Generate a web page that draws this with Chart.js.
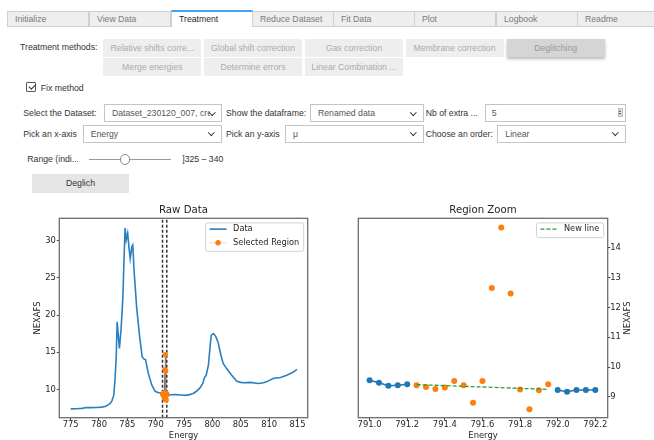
<!DOCTYPE html>
<html>
<head>
<meta charset="utf-8">
<script src="https://cdn.jsdelivr.net/npm/chart.js@4.4.1/dist/chart.umd.min.js"></script>
<style>
  html, body { margin: 0; padding: 0; background: #fff; }
  #page { position: relative; width: 654px; height: 440px; overflow: hidden;
          font-family: "Liberation Sans", Arial, sans-serif; font-size: 8.7px; color: #333; }
  .abs { position: absolute; white-space: nowrap; }
  .tab { position: absolute; top: 11px; height: 16px; width: 82px; box-sizing: border-box;
         background: #eeeeee; border: 1px solid #cfcfcf; color: #7a7a7a;
         line-height: 14px; padding-left: 7px; white-space: nowrap; }
  .tab.active { top: 9.5px; height: 17.5px; background: #fff; color: #2a2a2a;
                border-top: 2px solid #42a5f5; border-bottom: none; }
  .btn { position: absolute; width: 98px; height: 18.4px; line-height: 18.4px; background: #eeeeee;
         color: #ababab; text-align: center; white-space: nowrap; overflow: hidden; }
  .btn.on { background: #d5d5d5; color: #9a9a9a; box-shadow: 0 2px 3px rgba(0,0,0,0.28); }
  .lbl { position: absolute; height: 12px; line-height: 12px; white-space: nowrap; color: #333; }
  .dd { position: absolute; box-sizing: border-box; height: 18px; line-height: 16px; border: 1px solid #c4c4c4;
        background: #fff; padding-left: 7px; color: #555; white-space: nowrap; overflow: hidden; }
  .dd .txt { display: inline-block; overflow: hidden; vertical-align: top; }
  .chev { position: absolute; right: 7px; top: 4.5px; width: 3.5px; height: 3.5px;
          border-right: 1.6px solid #333; border-bottom: 1.6px solid #333; transform: rotate(45deg); }
  .cv { position: absolute; }
</style>
</head>
<body>
<div id="page">
  <!-- tab bar -->
  <div class="tab" style="left:7px">Initialize</div>
  <div class="tab" style="left:89px">View Data</div>
  <div class="tab active" style="left:171px">Treatment</div>
  <div class="tab" style="left:252px">Reduce Dataset</div>
  <div class="tab" style="left:333px">Fit Data</div>
  <div class="tab" style="left:414px">Plot</div>
  <div class="tab" style="left:496px">Logbook</div>
  <div class="tab" style="left:577px;width:80px">Readme</div>

  <!-- treatment method toggles -->
  <div class="lbl" style="left:20px;top:41.3px">Treatment methods:</div>
  <div class="btn" style="left:103.3px;top:38.7px">Relative shifts corre...</div>
  <div class="btn" style="left:204px;top:38.7px">Global shift correction</div>
  <div class="btn" style="left:305px;top:38.7px">Gas correction</div>
  <div class="btn" style="left:405.5px;top:38.7px">Membrane correction</div>
  <div class="btn on" style="left:506.7px;top:38.7px">Deglitching</div>
  <div class="btn" style="left:103.3px;top:57.6px">Merge energies</div>
  <div class="btn" style="left:204px;top:57.6px">Determine errors</div>
  <div class="btn" style="left:305px;top:57.6px">Linear Combination ...</div>

  <!-- fix method checkbox -->
  <div class="abs" style="left:26px;top:82px;width:10px;height:10px;box-sizing:border-box;border:1px solid #555;border-radius:1px;background:#fff">
    <div class="abs" style="left:2.6px;top:0px;width:2.6px;height:5.4px;border-right:1.4px solid #333;border-bottom:1.4px solid #333;transform:rotate(45deg)"></div>
  </div>
  <div class="lbl" style="left:40.7px;top:82.3px">Fix method</div>

  <!-- row 1 -->
  <div class="lbl" style="left:23.3px;top:107.3px">Select the Dataset:</div>
  <div class="dd" style="left:104px;top:104.3px;width:118px"><span class="txt" style="width:98px">Dataset_230120_007, created</span><div class="chev"></div></div>
  <div class="lbl" style="left:226px;top:107.3px">Show the dataframe:</div>
  <div class="dd" style="left:310px;top:104.3px;width:113.5px">Renamed data<div class="chev"></div></div>
  <div class="lbl" style="left:425.7px;top:107.3px">Nb of extra ...</div>
  <div class="dd" style="left:484.7px;top:104.3px;width:141px;padding-left:6px">5
    <div class="abs" style="left:132px;top:3px;width:5px;height:9px;background:#e4e4e4;border:1px solid #bbb;box-sizing:border-box">
      <div class="abs" style="left:0.5px;top:0.5px;width:0;height:0;border-left:1.5px solid transparent;border-right:1.5px solid transparent;border-bottom:2.5px solid #444"></div>
      <div class="abs" style="left:0.5px;top:4px;width:0;height:0;border-left:1.5px solid transparent;border-right:1.5px solid transparent;border-top:2.5px solid #444"></div>
    </div>
  </div>

  <!-- row 2 -->
  <div class="lbl" style="left:23.3px;top:127.6px">Pick an x-axis</div>
  <div class="dd" style="left:82.7px;top:124.5px;width:139px;height:18.3px">Energy<div class="chev"></div></div>
  <div class="lbl" style="left:226px;top:127.6px">Pick an y-axis</div>
  <div class="dd" style="left:285px;top:124.5px;width:138.5px;height:18.3px">μ<div class="chev"></div></div>
  <div class="lbl" style="left:425.7px;top:127.6px">Choose an order:</div>
  <div class="dd" style="left:497.3px;top:124.5px;width:128.4px;height:18.3px">Linear<div class="chev"></div></div>

  <!-- range slider -->
  <div class="lbl" style="left:27.3px;top:153.3px">Range (indi...</div>
  <div class="abs" style="left:89.3px;top:158.6px;width:81.4px;height:1.4px;background:#9a9a9a"></div>
  <div class="abs" style="left:119.7px;top:154px;width:10.6px;height:10.6px;box-sizing:border-box;border:1px solid #8a8a8a;border-radius:50%;background:#fff"></div>
  <div class="lbl" style="left:182.3px;top:153.3px">]325 – 340</div>

  <!-- action button -->
  <div class="abs" style="left:31.7px;top:174.3px;width:97.6px;height:19px;line-height:19px;background:#e5e5e5;text-align:center;color:#333">Deglich</div>

  <!-- plots -->
  <div class="cv" style="left:0;top:195px;width:325px;height:260px"><canvas id="rawChart" width="325" height="260"></canvas></div>
  <div class="cv" style="left:325px;top:195px;width:329px;height:260px"><canvas id="zoomChart" width="329" height="260"></canvas></div>
</div>

<script>
// ---- NEXAFS scan, eV / normalised absorption ----
// part of the scan below the glitch window
const rawEnergyLow = [775.0, 776.0, 777.0, 777.8, 778.5, 779.5, 780.5, 781.2, 781.6, 782.0, 782.3, 782.6, 782.8,
  783.05, 783.2, 783.4, 783.6, 783.9, 784.2, 784.4, 784.6, 784.8, 785.05, 785.3, 785.5, 785.8, 785.95, 786.2,
  786.65, 787.2, 787.6, 787.9, 788.2, 788.7, 789.3, 789.9, 790.5];
const rawNexafsLow = [7.38, 7.40, 7.45, 7.58, 7.55, 7.58, 7.62, 7.75, 7.92, 8.15, 8.50, 9.23, 11.0,
  14.6, 19.1, 17.3, 15.5, 18.2, 22.2, 27.2, 31.7, 30.1, 31.0, 29.0, 27.6, 29.2, 29.4, 25.8,
  20.9, 16.9, 14.4, 14.1, 14.0, 12.15, 10.6, 9.75, 9.55];

// glitch window (shown in the zoom panel)
const zoomEnergy = [791.0, 791.05, 791.1, 791.15, 791.2, 791.25, 791.3, 791.35, 791.4, 791.45, 791.5, 791.55,
  791.6, 791.65, 791.7, 791.75, 791.8, 791.85, 791.9, 791.95, 792.0, 792.05, 792.1, 792.15, 792.2];
const zoomNexafs = [9.56, 9.47, 9.37, 9.39, 9.42, 9.39, 9.33, 9.26, 9.31, 9.53, 9.39, 8.80,
  9.53, 12.65, 14.68, 12.47, 9.25, 8.58, 9.22, 9.42, 9.23, 9.17, 9.23, 9.23, 9.23];

// part of the scan above the glitch window
const rawEnergyHigh = [792.6, 793.5, 794.5, 795.3, 796.0, 796.6, 797.2, 797.8, 798.3, 798.6, 798.9, 799.3,
  799.6, 799.8, 800.2, 800.6, 801.0, 801.5, 801.9, 802.5, 803.4, 804.3, 805.0, 805.5, 806.7, 808.1, 809.0,
  809.6, 810.8, 812.0, 813.1, 814.2, 814.9];
const rawNexafsHigh = [9.28, 9.30, 9.25, 9.20, 9.30, 9.45, 9.75, 10.2, 10.8, 11.6, 11.9, 13.3,
  15.9, 17.3, 17.5, 17.1, 16.3, 14.6, 13.5, 12.8, 11.9, 11.1, 10.95, 10.9, 10.95, 10.8, 10.9,
  11.05, 11.5, 11.6, 11.9, 12.3, 12.7];

// selected points (index range inside the glitch window) and the replacement line
const selectedFrom = 5, selectedTo = 20;
const regionBounds = [791.2, 791.95];
const newLineEnergy = [791.25, 791.95];
const newLineNexafs = [9.41, 9.25];

// axis ticks
const rawTicksX = [775, 780, 785, 790, 795, 800, 805, 810, 815];
const rawTicksY = [10, 15, 20, 25, 30];
const zoomTicksX = [791.0, 791.2, 791.4, 791.6, 791.8, 792.0, 792.2];
const zoomTicksY = [9, 10, 11, 12, 13, 14];

// ---- helpers ----
const pts = (xs, ys) => xs.map((x, i) => ({ x, y: ys[i] }));
const BLUE = '#1f77b4', ORANGE = '#ff7f0e', GREEN = '#2ca02c', INK = '#262626';
const tickFont = { family: 'DejaVu Sans', size: 8.4 };
const titleFont = { family: 'DejaVu Sans', size: 10.2, weight: 'normal', lineHeight: 1.2 };
Chart.defaults.font.family = 'DejaVu Sans';

// matplotlib-style frame, in-axes legend and optional right-hand axis label
const mplDecor = {
  id: 'mplDecor',
  afterDatasetsDraw(chart, args, o) {
    const { ctx, chartArea: a } = chart;
    ctx.save();
    ctx.strokeStyle = '#6e6e6e';
    ctx.lineWidth = 1.3;
    ctx.strokeRect(a.left, a.top, a.right - a.left, a.bottom - a.top);
    ctx.restore();
  },
  afterDraw(chart, args, o) {
    const { ctx, chartArea: a } = chart;
    ctx.save();
    const items = chart.data.datasets.filter(d => d.label);
    if (items.length) {
      ctx.font = '8.2px "DejaVu Sans"';
      const textW = Math.max(...items.map(d => ctx.measureText(d.label).width));
      const handle = 17, rowH = 13.7;
      const w = 4 + handle + 6.5 + textW + 4.5;
      const h = items.length * rowH + 1;
      const x0 = a.right - 4 - w, y0 = a.top + 4.6;
      ctx.beginPath();
      ctx.roundRect(x0, y0, w, h, 2);
      ctx.fillStyle = 'rgba(255,255,255,0.85)';
      ctx.fill();
      ctx.strokeStyle = '#d2d2d2';
      ctx.lineWidth = 1;
      ctx.stroke();
      items.forEach((d, i) => {
        const cy = y0 + 6.2 + i * rowH;
        const hx = x0 + 4;
        if (d.showLine !== false) {
          ctx.beginPath();
          ctx.setLineDash(d.borderDash || []);
          ctx.strokeStyle = d.borderColor;
          ctx.lineWidth = d.borderWidth;
          ctx.moveTo(hx, cy);
          ctx.lineTo(hx + handle, cy);
          ctx.stroke();
          ctx.setLineDash([]);
        }
        if (d.pointRadius) {
          ctx.beginPath();
          ctx.fillStyle = d.pointBackgroundColor;
          ctx.arc(hx + handle / 2, cy, d.pointRadius, 0, Math.PI * 2);
          ctx.fill();
        }
        ctx.fillStyle = INK;
        ctx.textBaseline = 'middle';
        ctx.textAlign = 'left';
        ctx.fillText(d.label, hx + handle + 6.5, cy);
      });
    }
    if (o && o.sideLabel) {
      ctx.translate(a.right + o.sideOffset, (a.top + a.bottom) / 2);
      ctx.rotate(-Math.PI / 2);
      ctx.font = '8.4px "DejaVu Sans"';
      ctx.fillStyle = INK;
      ctx.textAlign = 'center';
      ctx.textBaseline = 'middle';
      ctx.fillText(o.sideLabel, 0, 0);
    }
    ctx.restore();
  }
};

const tickGrid = { drawOnChartArea: false, drawTicks: true, tickLength: 2.5, color: '#444', lineWidth: 1 };
const setTicks = values => scale => { scale.ticks = values.map(v => ({ value: v })); };

// ---- left panel: whole spectrum ----
const rawLimits = { xMin: 773, xMax: 816.8, yMin: 6.2, yMax: 33.0 };
const rawData = pts(rawEnergyLow, rawNexafsLow)
  .concat(pts(zoomEnergy, zoomNexafs))
  .concat(pts(rawEnergyHigh, rawNexafsHigh));
const selectedPts = pts(zoomEnergy.slice(selectedFrom, selectedTo), zoomNexafs.slice(selectedFrom, selectedTo));
const boundLine = x => ({
  label: '', data: [{ x, y: rawLimits.yMin }, { x, y: rawLimits.yMax }],
  borderColor: '#333', borderWidth: 1.5, borderDash: [3, 2], pointRadius: 0, order: 1
});

new Chart(document.getElementById('rawChart'), {
  type: 'line',
  data: {
    datasets: [
      { label: 'Data', data: rawData, borderColor: '#2a7fc0', borderWidth: 1.6, pointRadius: 0, tension: 0, order: 2 },
      { label: 'Selected Region', data: selectedPts, borderColor: 'rgba(255,127,14,0.3)', borderWidth: 1,
        pointRadius: 2.7, pointBackgroundColor: ORANGE, pointBorderWidth: 0, order: 0 },
      boundLine(regionBounds[0]),
      boundLine(regionBounds[1])
    ]
  },
  options: {
    responsive: false, animation: false, events: [], devicePixelRatio: 1,
    layout: { padding: { left: 0, right: 17.3, top: 0, bottom: 0 } },
    plugins: {
      legend: { display: false }, tooltip: { enabled: false },
      title: { display: true, text: 'Raw Data', fullSize: false, color: INK, font: titleFont,
               padding: { top: 9.6, bottom: 1.46 } },
      mplDecor: {}
    },
    scales: {
      x: {
        type: 'linear', min: rawLimits.xMin, max: rawLimits.xMax,
        afterBuildTicks: setTicks(rawTicksX),
        afterFit: s => { s.height = 37.3; },
        ticks: { font: tickFont, color: INK, padding: 0, maxRotation: 0, autoSkip: false, callback: v => String(v) },
        grid: tickGrid, border: { display: false },
        title: { display: true, text: 'Energy', color: INK, font: tickFont, padding: { top: 0, bottom: 14.26 } }
      },
      y: {
        min: rawLimits.yMin, max: rawLimits.yMax,
        afterBuildTicks: setTicks(rawTicksY),
        afterFit: s => { s.width = 59.3; },
        ticks: { font: tickFont, color: INK, padding: 1, autoSkip: false, callback: v => String(v) },
        grid: tickGrid, border: { display: false },
        title: { display: true, text: 'NEXAFS', color: INK, font: tickFont, padding: { top: 33, bottom: 0 } }
      }
    }
  },
  plugins: [mplDecor]
});

// ---- right panel: glitch window ----
const zoomLimits = { xMin: 790.94, xMax: 792.266, yMin: 8.30, yMax: 14.99 };
const keptBefore = pts(zoomEnergy.slice(0, selectedFrom), zoomNexafs.slice(0, selectedFrom));
const keptAfter = pts(zoomEnergy.slice(selectedTo), zoomNexafs.slice(selectedTo));
const keptStyle = { label: '', borderColor: BLUE, borderWidth: 1.6, pointRadius: 3, pointBackgroundColor: BLUE,
                    pointBorderWidth: 0, tension: 0, order: 1 };

new Chart(document.getElementById('zoomChart'), {
  type: 'line',
  data: {
    datasets: [
      { ...keptStyle, data: keptBefore },
      { ...keptStyle, data: keptAfter },
      { label: '', data: selectedPts, showLine: false, pointRadius: 3, pointBackgroundColor: ORANGE,
        pointBorderWidth: 0, order: 2 },
      { label: 'New line', data: pts(newLineEnergy, newLineNexafs), borderColor: GREEN, borderWidth: 1.3,
        borderDash: [4, 2], pointRadius: 0, order: 0 }
    ]
  },
  options: {
    responsive: false, animation: false, events: [], devicePixelRatio: 1,
    layout: { padding: { left: 33.3, right: 0, top: 0, bottom: 0 } },
    plugins: {
      legend: { display: false }, tooltip: { enabled: false },
      title: { display: true, text: 'Region Zoom', fullSize: false, color: INK, font: titleFont,
               padding: { top: 9.6, bottom: 1.46 } },
      mplDecor: { sideLabel: 'NEXAFS', sideOffset: 20.3 }
    },
    scales: {
      x: {
        type: 'linear', min: zoomLimits.xMin, max: zoomLimits.xMax,
        afterBuildTicks: setTicks(zoomTicksX),
        afterFit: s => { s.height = 37.3; },
        ticks: { font: tickFont, color: INK, padding: 0, maxRotation: 0, autoSkip: false, callback: v => v.toFixed(1) },
        grid: tickGrid, border: { display: false },
        title: { display: true, text: 'Energy', color: INK, font: tickFont, padding: { top: 0, bottom: 14.26 } }
      },
      y: {
        position: 'right', min: zoomLimits.yMin, max: zoomLimits.yMax,
        afterBuildTicks: setTicks(zoomTicksY),
        afterFit: s => { s.width = 46.3; },
        ticks: { font: tickFont, color: INK, padding: 0, autoSkip: false, callback: v => String(v) },
        grid: tickGrid, border: { display: false }
      }
    }
  },
  plugins: [mplDecor]
});
</script>
</body>
</html>
